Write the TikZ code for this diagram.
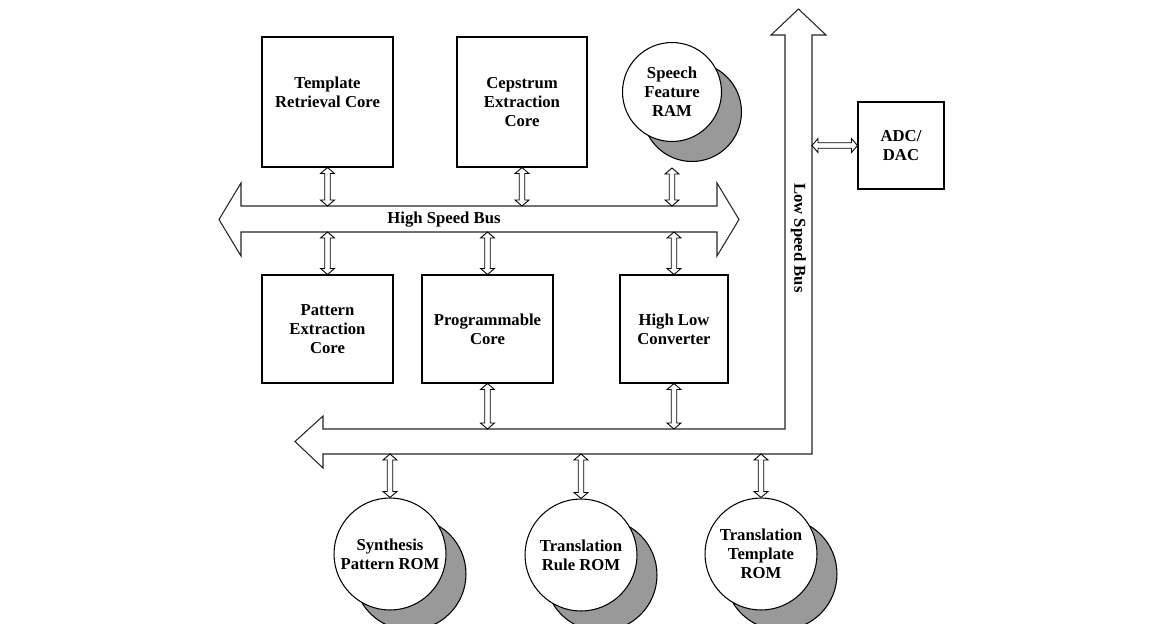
\documentclass[tikz,border=0pt]{standalone}
\usepackage{fontspec}
\setmainfont{Liberation Serif}
\usetikzlibrary{calc}
\usetikzlibrary{shadows}
\usetikzlibrary{positioning}

\begin{document}
\begin{tikzpicture}[x=0.02cm,y=-0.02cm,line width=0.6pt,
	font=\bfseries\fontsize{9.5}{10.8}\selectfont,
	block/.style={rectangle,draw,fill=white,align=center,inner sep=2pt},
	mem/.style={circle,draw,fill=white,align=center,inner sep=0pt,minimum size=2.24cm,
		drop shadow={shadow xshift=0.4cm,shadow yshift=-0.4cm,fill=gray!80,draw=black,opacity=1}},
	bus/.style={draw=black!85,fill=white},
	conn/.style={draw,fill=white,line width=0.5pt,to path={
		-- ($(\tikztostart)!0.12cm!(\tikztotarget)!0.14cm!90:(\tikztotarget)$)
		-- ($(\tikztostart)!0.12cm!(\tikztotarget)!0.055cm!90:(\tikztotarget)$)
		-- ($(\tikztotarget)!0.12cm!(\tikztostart)!0.055cm!-90:(\tikztostart)$)
		-- ($(\tikztotarget)!0.12cm!(\tikztostart)!0.14cm!-90:(\tikztostart)$)
		-- (\tikztotarget)
		-- ($(\tikztotarget)!0.12cm!(\tikztostart)!0.14cm!90:(\tikztostart)$)
		-- ($(\tikztotarget)!0.12cm!(\tikztostart)!0.055cm!90:(\tikztostart)$)
		-- ($(\tikztostart)!0.12cm!(\tikztotarget)!0.055cm!-90:(\tikztotarget)$)
		-- ($(\tikztostart)!0.12cm!(\tikztotarget)!0.14cm!-90:(\tikztotarget)$)
		-- cycle}}]

	\useasboundingbox (0,0) rectangle (1153,623);

	% buses
	\draw[bus] (219,219.5) -- (241,183) -- (241,206) -- (717,206) -- (717,183)
		-- (739,219.5) -- (717,256) -- (717,232) -- (241,232) -- (241,256) -- cycle;
	\draw[bus] (295,441.5) -- (323,416) -- (323,429) -- (785,429) -- (785,35)
		-- (771,35) -- (798.5,9) -- (826,35) -- (812,35) -- (812,454)
		-- (323,454) -- (323,468) -- cycle;
	\coordinate (hsbtop) at (0,206);
	\coordinate (hsbbot) at (0,232);
	\coordinate (lsbtop) at (0,429);
	\coordinate (lsbbot) at (0,454);
	\coordinate (lsbright) at (812,0);
	\node (hsblabel) at (444,219.5) {High Speed Bus};
	\node[rotate=-90] (lsblabel) at (798.5,238) {Low Speed Bus};

	% cores
	\node[block,minimum width=2.62cm,minimum height=2.6cm] (trc) at (327.5,102) {Template\\Retrieval Core\\\mbox{}};
	\node[block,minimum width=2.6cm,minimum height=2.6cm] (cec) at (522,102) {Cepstrum\\Extraction\\Core};
	\node[mem,minimum size=1.98cm] (ram) at (672,92) {Speech\\Feature\\RAM};
	\node[block,minimum width=2.62cm,minimum height=2.16cm] (pec) at (327.5,329) {Pattern\\Extraction\\Core};
	\node[block,minimum width=2.62cm,minimum height=2.16cm] (prc) at (487.5,329) {Programmable\\Core};
	\node[block,minimum width=2.16cm,minimum height=2.16cm] (hlc) at (674,329) {High Low\\Converter};
	\node[block,minimum width=1.72cm,minimum height=1.74cm] (adc) at (901,145.5) {ADC/\\DAC};

	% memories
	\node[mem] (spr) at (390,554) {Synthesis\\Pattern ROM};
	\node[mem] (trr) at (581,555) {Translation\\Rule ROM};
	\node[mem] (ttr) at (761,554) {Translation\\Template\\ROM};

	\coordinate[below=0.52cm of ram.south] (ramport);

	\path
	(trc.south) edge[conn] (trc.south |- hsbtop)
	(cec.south) edge[conn] (cec.south |- hsbtop)
	(ramport) edge[conn] (ramport |- hsbtop)
	(pec.north |- hsbbot) edge[conn] (pec.north)
	(prc.north |- hsbbot) edge[conn] (prc.north)
	(hlc.north |- hsbbot) edge[conn] (hlc.north)
	(prc.south) edge[conn] (prc.south |- lsbtop)
	(hlc.south) edge[conn] (hlc.south |- lsbtop)
	(spr.north |- lsbbot) edge[conn] (spr.north)
	(trr.north |- lsbbot) edge[conn] (trr.north)
	(ttr.north |- lsbbot) edge[conn] (ttr.north)
	(lsbright |- adc.west) edge[conn] (adc.west);
\end{tikzpicture}
\end{document}
